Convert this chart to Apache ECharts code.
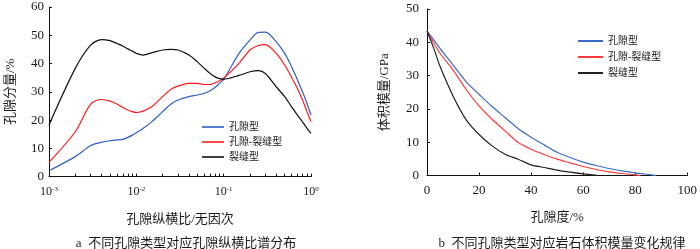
<!DOCTYPE html>
<html><head><meta charset="utf-8">
<script src="https://cdn.jsdelivr.net/npm/echarts@6/dist/echarts.min.js"></script>
<style>html,body{margin:0;padding:0;background:#fff}#c{width:700px;height:249px}</style>
</head><body><div id="c"></div>
<script>
// ---- Chart a: aspect-ratio spectrum ----
const aspectX = [0.001,0.002,0.003,0.004,0.005,0.006,0.007,0.008,0.009,0.01,0.012,0.015,0.02,0.025,0.03,0.04,0.05,0.06,0.07,0.08,0.09,0.1,0.15,0.2,0.25,0.3,0.4,0.5,0.6,0.7,0.8,0.9,1];
const poreA     = [2.1,7.1,11.0,12.2,12.7,13.0,13.2,13.9,14.7,15.5,17.1,19.4,23.0,25.7,27.1,28.3,28.9,29.5,30.4,31.6,33.0,34.4,43.6,48.3,51.0,51.1,47.7,43.6,38.9,34.2,30.0,25.9,21.8];
const poreFracA = [5.1,15.9,25.7,27.3,26.7,25.7,24.5,23.6,23.0,22.7,23.2,24.7,28.3,30.9,32.0,33.0,33.0,32.6,32.6,33.2,33.9,34.8,40.1,44.8,46.4,46.7,43.6,39.5,35.1,31.2,27.1,23.0,19.4];
const fracA     = [18.3,38.3,46.5,48.5,48.1,47.1,46.2,45.2,44.4,43.6,43.0,43.8,44.8,45.0,44.8,43.0,40.6,38.3,36.5,35.3,34.7,34.5,35.8,37.1,37.5,36.5,31.8,28.3,24.7,21.8,19.4,17.1,15.3];
const aspectTicks = [0.001,0.002,0.003,0.004,0.005,0.006,0.007,0.008,0.009,0.01,0.02,0.03,0.04,0.05,0.06,0.07,0.08,0.09,0.1,0.2,0.3,0.4,0.5,0.6,0.7,0.8,0.9,1];
const aspectLabels = [0.001,0.01,0.1,1];

// ---- Chart b: bulk modulus vs porosity ----
const poreXB     = [0,5,10,15,20,25,30,35,40,45,50,55,60,65,70,75,80,85,88];
const poreB      = [43.4,38.2,33.2,28.2,24.4,20.7,17.4,14.1,11.5,9.2,7.0,5.4,4.0,3.0,2.1,1.4,0.8,0.3,0];
const poreFracXB = [0,5,10,15,20,25,30,35,40,45,50,55,60,65,70,75,80,82];
const poreFracB  = [43.4,36.7,31.7,25.9,20.9,16.9,13.4,10.0,7.9,6.3,4.9,3.8,2.7,1.8,1.1,0.6,0.2,0];
const fracXB     = [0,2.5,5,10,15,20,25,30,35,40,45,50,55,60,65];
const fracB      = [43.4,38.4,32.8,23.9,16.8,12.3,8.9,6.4,4.9,3.2,2.4,1.6,1.0,0.5,0.1];

const names = ['孔隙型','孔隙-裂缝型','裂缝型'];
const colA = ['#2f5fc4','#ff1a1a','#111111'];
const colB = ['#3d6cc8','#ff3b3b','#222222'];
const zip = (xs, ys) => xs.map((x,i)=>[x, ys[i]]);

const serif = '"Liberation Serif","Noto Sans CJK SC",serif';
const txt = '#1a1a1a';

const chart = echarts.init(document.getElementById('c'), null, {renderer:'canvas'});
const axisCommon = {
  axisLine:{show:true, lineStyle:{color:'#111', width:1}},
  splitLine:{show:false},
  axisTick:{inside:true, length:3, lineStyle:{color:'#111'}},
  axisLabel:{color:txt, fontFamily:serif, fontSize:13},
  nameTextStyle:{color:txt, fontFamily:serif, fontSize:13},
  nameLocation:'middle'
};
const supMap = {'-3':'-3','-2':'-2','-1':'-1','0':'0'};
chart.setOption({
  animation:false,
  title:[
    {text:'a  不同孔隙类型对应孔隙纵横比谱分布', left:181, top:232, textAlign:'center',
     textStyle:{fontFamily:serif, fontSize:13, fontWeight:'normal', color:txt}},
    {text:'b  不同孔隙类型对应岩石体积模量变化规律', left:557, top:232, textAlign:'center',
     textStyle:{fontFamily:serif, fontSize:13, fontWeight:'normal', color:txt}}
  ],
  grid:[
    {left:49, top:7, width:262, height:169.7},
    {left:427, top:9, width:263, height:166.5}
  ],
  legend:[
    {orient:'vertical', left:197, top:116, itemWidth:22, itemHeight:1.6, itemGap:3, selectedMode:false,
     textStyle:{fontFamily:serif, fontSize:10, color:txt, lineHeight:12},
     data:names.map((n,i)=>({name:n, icon:'rect', itemStyle:{color:colA[i]}}))},
    {orient:'vertical', left:573, top:30, itemWidth:25, itemHeight:2, itemGap:4, selectedMode:false,
     textStyle:{fontFamily:serif, fontSize:10, color:txt, lineHeight:12},
     data:names.map((n,i)=>({name:n, icon:'rect', itemStyle:{color:colB[i]}}))}
  ],
  xAxis:[
    Object.assign({}, axisCommon, {gridIndex:0, type:'log', logBase:10, min:0.001, max:1,
      name:'孔隙纵横比/无因次', nameGap:36,
      axisTick:{inside:true, length:3, lineStyle:{color:'#111'}, customValues:aspectTicks},
      axisLabel:{color:txt, fontFamily:serif, margin:9, customValues:aspectLabels,
        formatter:(v)=>{const e=Math.round(Math.log10(v)); return '{b|10}{s|'+e+'}';},
        rich:{b:{fontSize:12, fontFamily:serif, color:txt}, s:{fontSize:7, fontFamily:serif, color:txt, verticalAlign:'top', lineHeight:8}}}
    }),
    Object.assign({}, axisCommon, {gridIndex:1, type:'value', min:0, max:100, interval:20,
      name:'孔隙度/%', nameGap:36,
      axisLabel:Object.assign({}, axisCommon.axisLabel, {margin:9})})
  ],
  yAxis:[
    Object.assign({}, axisCommon, {gridIndex:0, type:'value', min:0, max:60, interval:10,
      name:'孔隙分量/%', nameGap:32, axisLabel:Object.assign({}, axisCommon.axisLabel, {margin:5})}),
    Object.assign({}, axisCommon, {gridIndex:1, type:'value', min:0, max:50, interval:10,
      name:'体积模量/GPa', nameGap:36, axisLabel:Object.assign({}, axisCommon.axisLabel, {margin:8})})
  ],
  series:[
    {name:names[0], type:'line', xAxisIndex:0, yAxisIndex:0, data:zip(aspectX,poreA), showSymbol:false, smooth:0.3, lineStyle:{color:colA[0], width:1.2}, itemStyle:{color:colA[0]}},
    {name:names[1], type:'line', xAxisIndex:0, yAxisIndex:0, data:zip(aspectX,poreFracA), showSymbol:false, smooth:0.3, lineStyle:{color:colA[1], width:1.2}, itemStyle:{color:colA[1]}},
    {name:names[2], type:'line', xAxisIndex:0, yAxisIndex:0, data:zip(aspectX,fracA), showSymbol:false, smooth:0.3, lineStyle:{color:colA[2], width:1.2}, itemStyle:{color:colA[2]}},
    {name:names[0], type:'line', xAxisIndex:1, yAxisIndex:1, data:zip(poreXB,poreB), showSymbol:false, smooth:0.3, lineStyle:{color:colB[0], width:1.2}, itemStyle:{color:colB[0]}},
    {name:names[1], type:'line', xAxisIndex:1, yAxisIndex:1, data:zip(poreFracXB,poreFracB), showSymbol:false, smooth:0.3, lineStyle:{color:colB[1], width:1.2}, itemStyle:{color:colB[1]}},
    {name:names[2], type:'line', xAxisIndex:1, yAxisIndex:1, data:zip(fracXB,fracB), showSymbol:false, smooth:0.3, lineStyle:{color:colB[2], width:1.2}, itemStyle:{color:colB[2]}}
  ]
});
</script></body></html>
